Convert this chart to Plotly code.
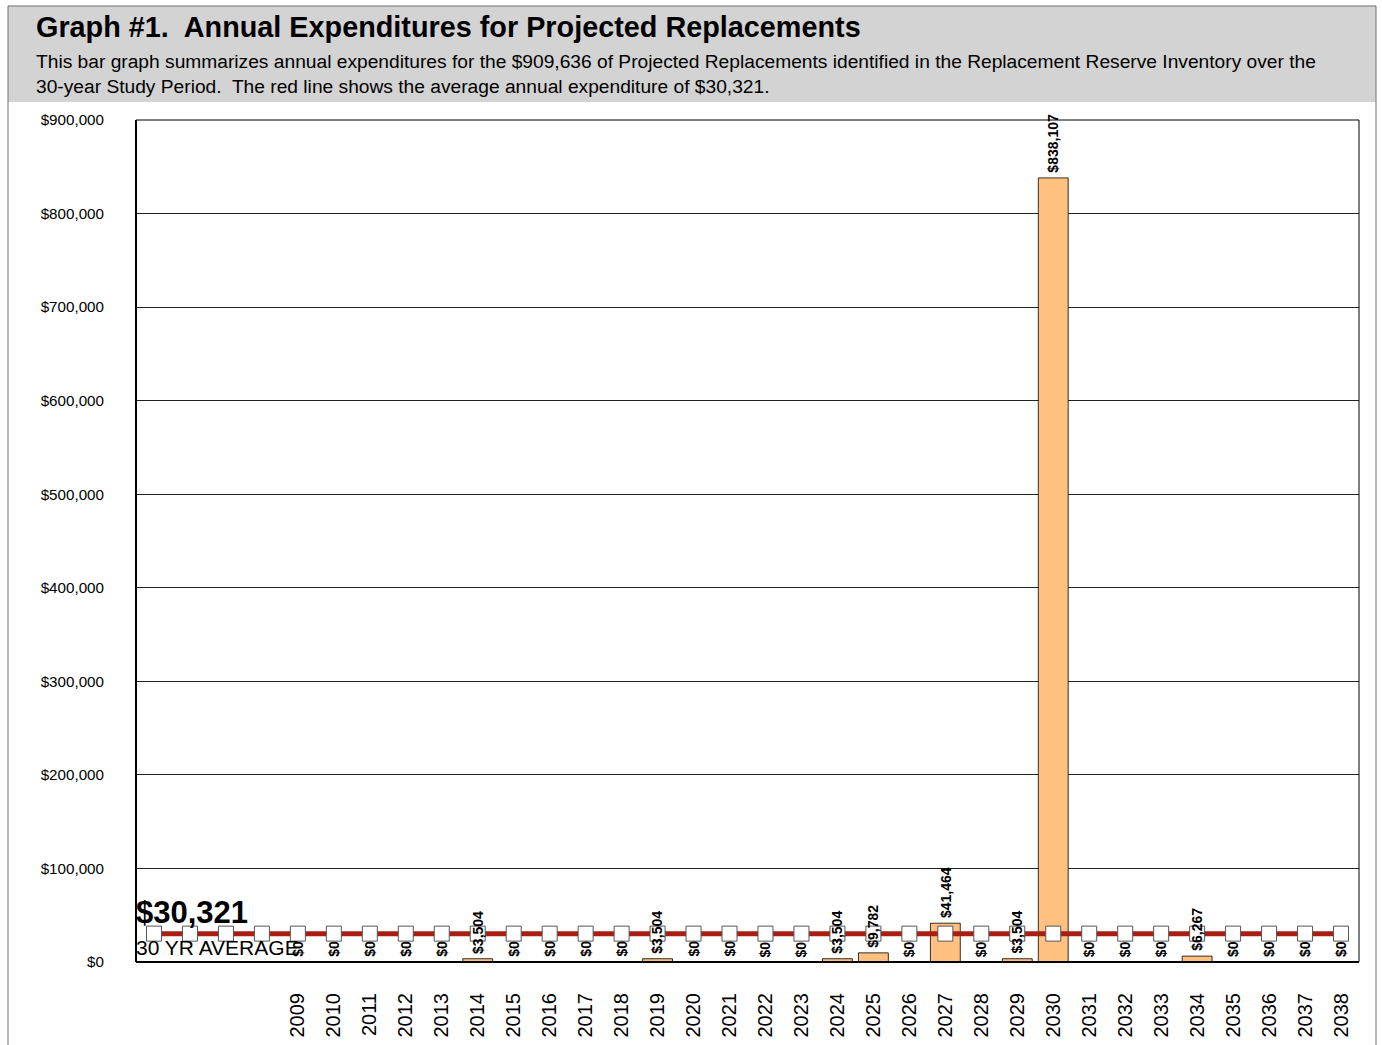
import plotly.graph_objects as go

# Study period: four unlabeled lead-in slots, then 2009-2038
lead_slots = 4
years = list(range(2009, 2039))
expenditures = [
    0, 0, 0, 0, 0, 3504, 0, 0, 0, 0,
    3504, 0, 0, 0, 0, 3504, 9782, 0, 41464, 0,
    3504, 838107, 0, 0, 0, 6267, 0, 0, 0, 0,
]
total_projected = 909636
average_annual = 30321
y_ticks = list(range(0, 900001, 100000))
y_tick_text = [f"${v:,}" for v in y_ticks]

W, H = 1382, 1045
L, R, T, B = 136, 1359, 120, 962


def px_x(p):
    return (p - L) / (R - L)


def px_y(p):
    return (B - p) / (B - T)


FONT = "Liberation Sans, Arial, sans-serif"

bar_x = [lead_slots + i for i in range(len(years))]
n_slots = lead_slots + len(years)

fig = go.Figure()

fig.add_trace(go.Bar(
    x=bar_x,
    y=expenditures,
    width=0.83,
    marker=dict(color="#FFC080", line=dict(color="#000000", width=0.8)),
    hoverinfo="skip",
    showlegend=False,
))

fig.add_trace(go.Scatter(
    x=list(range(n_slots)),
    y=[average_annual] * n_slots,
    mode="lines+markers",
    line=dict(color="#A71F12", width=5),
    marker=dict(symbol="square", size=15, color="#FFFFFF",
                line=dict(color="#555555", width=1)),
    hoverinfo="skip",
    showlegend=False,
))

shapes = [
    # header band
    dict(type="rect", xref="paper", yref="paper",
         x0=px_x(8), x1=px_x(1376), y0=px_y(102), y1=px_y(6),
         fillcolor="#D3D3D3", line=dict(width=0), layer="below"),
    # page frame
    dict(type="line", xref="paper", yref="paper",
         x0=px_x(8), x1=px_x(1376), y0=px_y(6), y1=px_y(6),
         line=dict(color="#6E6E6E", width=1)),
    dict(type="line", xref="paper", yref="paper",
         x0=px_x(8), x1=px_x(8), y0=px_y(6), y1=px_y(1045),
         line=dict(color="#6E6E6E", width=1)),
    dict(type="line", xref="paper", yref="paper",
         x0=px_x(1376), x1=px_x(1376), y0=px_y(6), y1=px_y(1045),
         line=dict(color="#6E6E6E", width=1)),
    # plot border
    dict(type="rect", xref="paper", yref="paper",
         x0=0, x1=1, y0=0, y1=1, line=dict(color="#000000", width=1)),
    dict(type="line", xref="paper", yref="paper",
         x0=0, x1=0, y0=0, y1=1, line=dict(color="#000000", width=2)),
    dict(type="line", xref="paper", yref="paper",
         x0=0, x1=1, y0=0, y1=0, line=dict(color="#000000", width=2)),
]

annotations = [
    dict(xref="paper", yref="paper", x=px_x(34), y=px_y(27),
         xanchor="left", yanchor="middle", showarrow=False,
         text="<b>Graph #1.  Annual Expenditures for Projected Replacements</b>",
         font=dict(family=FONT, size=28.8, color="#000000")),
    dict(xref="paper", yref="paper", x=px_x(34), y=px_y(61),
         xanchor="left", yanchor="middle", showarrow=False,
         text=(f"This bar graph summarizes annual expenditures for the ${total_projected:,} "
               "of Projected Replacements identified in the Replacement Reserve Inventory over the"),
         font=dict(family=FONT, size=19.2, color="#000000")),
    dict(xref="paper", yref="paper", x=px_x(34), y=px_y(87),
         xanchor="left", yanchor="middle", showarrow=False,
         text=("30-year Study Period.  The red line shows the average annual "
               f"expenditure of ${average_annual:,}."),
         font=dict(family=FONT, size=19.2, color="#000000")),
    dict(xref="paper", yref="paper", x=px_x(134), y=px_y(912),
         xanchor="left", yanchor="middle", showarrow=False,
         text=f"<b>${average_annual:,}</b>",
         font=dict(family=FONT, size=31, color="#000000")),
    dict(xref="paper", yref="paper", x=px_x(134), y=px_y(947),
         xanchor="left", yanchor="middle", showarrow=False,
         text="30 YR AVERAGE",
         font=dict(family=FONT, size=21, color="#000000")),
]

# value labels stacked above each year's bar, drawn over the average line
for xv, v in zip(bar_x, expenditures):
    annotations.append(dict(
        x=xv, y=v, xref="x", yref="y",
        text=f"<b>${v:,}</b>",
        textangle=-90,
        xanchor="center", yanchor="bottom",
        yshift=3, showarrow=False,
        font=dict(family=FONT, size=14, color="#000000"),
    ))

fig.update_layout(
    width=W, height=H,
    margin=dict(l=L, r=W - R, t=T, b=H - B, autoexpand=False),
    paper_bgcolor="#FFFFFF",
    plot_bgcolor="#FFFFFF",
    shapes=shapes,
    annotations=annotations,
    xaxis=dict(
        range=[-0.5, n_slots - 0.5],
        tickmode="array",
        tickvals=bar_x,
        ticktext=[str(y) for y in years],
        tickangle=-90,
        tickfont=dict(family=FONT, size=20, color="#000000"),
        ticks="",
        ticklabelstandoff=26,
        showgrid=False,
        showline=False,
        zeroline=False,
        automargin=False,
        fixedrange=True,
    ),
    yaxis=dict(
        range=[0, 900000],
        tickmode="array",
        tickvals=y_ticks,
        ticktext=y_tick_text,
        tickfont=dict(family=FONT, size=15.2, color="#000000"),
        ticks="",
        ticklabelstandoff=31,
        showgrid=True,
        gridcolor="#222222",
        gridwidth=1,
        showline=False,
        zeroline=False,
        automargin=False,
        fixedrange=True,
    ),
)

fig.write_html("out.html")
